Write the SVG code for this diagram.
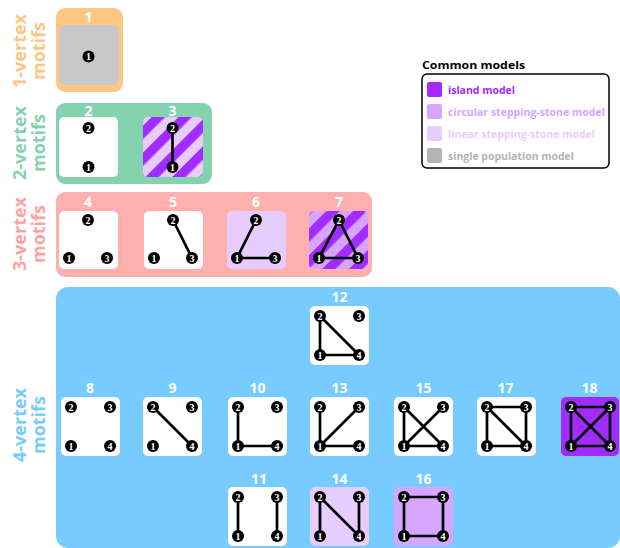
<svg xmlns="http://www.w3.org/2000/svg" width="620" height="548" viewBox="0 0 620 548">
<style>
.side{font-family:"Open Sans","Noto Sans",sans-serif;font-weight:700;font-size:18px;text-anchor:middle}
.num{font-family:"Open Sans","Noto Sans",sans-serif;font-weight:700;font-size:14px;fill:#fff;text-anchor:middle}
.e{stroke:#000;stroke-width:2.7;stroke-linecap:round;stroke-linejoin:round;fill:none}
.v circle{fill:#000}
.v text{font-family:"Liberation Serif","DejaVu Serif",serif;font-weight:700;font-size:10px;fill:#fff;text-anchor:middle}
.lg{font-family:"Open Sans","Noto Sans",sans-serif;font-weight:700;font-size:11px}
.w{fill:#fff}
</style>
<defs>
<pattern id="stripeL" patternUnits="userSpaceOnUse" width="19" height="19" patternTransform="rotate(45)">
<rect width="19" height="19" fill="#E6CCFF"/><rect width="9.5" height="19" fill="#A22BFF"/>
</pattern>
<pattern id="stripeC" patternUnits="userSpaceOnUse" width="19" height="19" patternTransform="rotate(45)">
<rect width="19" height="19" fill="#D5A5FF"/><rect width="9.5" height="19" fill="#A22BFF"/>
</pattern>
</defs>

<!-- group backgrounds -->
<g id="g1">
<rect x="56" y="8" width="67" height="84" rx="9" fill="#FFC583"/>
<text class="side" fill="#FFC583" transform="translate(26,51) rotate(-90)"><tspan x="0" y="0">1-vertex</tspan><tspan x="0" y="19">motifs</tspan></text>
</g>
<g id="g2">
<rect x="56" y="103" width="156" height="81" rx="9" fill="#85D2AF"/>
<text class="side" fill="#85D2AF" transform="translate(26,143) rotate(-90)"><tspan x="0" y="0">2-vertex</tspan><tspan x="0" y="19">motifs</tspan></text>
</g>
<g id="g3">
<rect x="56" y="192" width="316" height="85" rx="9" fill="#FFB0AE"/>
<text class="side" fill="#FFA3A1" transform="translate(26,234) rotate(-90)"><tspan x="0" y="0">3-vertex</tspan><tspan x="0" y="19">motifs</tspan></text>
</g>
<g id="g4">
<rect x="56" y="287" width="564" height="261" rx="12" fill="#78CBFF"/>
<text class="side" fill="#78CBFF" transform="translate(26,425) rotate(-90)"><tspan x="0" y="0">4-vertex</tspan><tspan x="0" y="19">motifs</tspan></text>
</g>

<!-- motifs -->
<g id="m1"><text class="num" x="88.5" y="21.5">1</text><rect x="59" y="25" width="60" height="60" rx="6" fill="#C8C8C8"/></g>
<g id="m2"><text class="num" x="88.5" y="115.5">2</text><rect x="59" y="117" width="59" height="60" rx="5" class="w"/></g>
<g id="m3"><text class="num" x="172.5" y="115.5">3</text><rect x="143" y="117" width="60" height="60" rx="5" fill="url(#stripeL)"/></g>
<g id="m4"><text class="num" x="88" y="206.5">4</text><rect x="59" y="211" width="59" height="58" rx="5" class="w"/></g>
<g id="m5"><text class="num" x="173" y="206.5">5</text><rect x="144" y="211" width="59" height="58" rx="5" class="w"/></g>
<g id="m6"><text class="num" x="256" y="206.5">6</text><rect x="227" y="211" width="59" height="58" rx="5" fill="#E6CCFF"/></g>
<g id="m7"><text class="num" x="339" y="206.5">7</text><rect x="309" y="211" width="59" height="58" rx="5" fill="url(#stripeC)"/></g>
<g id="m8"><text class="num" x="90" y="392.5">8</text><rect x="61" y="397" width="59" height="59" rx="5" class="w"/></g>
<g id="m9"><text class="num" x="172.5" y="392.5">9</text><rect x="143" y="397" width="59" height="59" rx="5" class="w"/></g>
<g id="m10"><text class="num" x="257.5" y="392.5">10</text><rect x="228" y="397" width="59" height="59" rx="5" class="w"/></g>
<g id="m11"><text class="num" x="259" y="484">11</text><rect x="228" y="487" width="59" height="59" rx="5" class="w"/></g>
<g id="m12"><text class="num" x="339.5" y="301.5">12</text><rect x="310" y="306" width="59" height="59" rx="5" class="w"/></g>
<g id="m13"><text class="num" x="339.5" y="392.5">13</text><rect x="310" y="397" width="59" height="59" rx="5" class="w"/></g>
<g id="m14"><text class="num" x="339.5" y="484">14</text><rect x="310" y="487" width="59" height="59" rx="5" fill="#E6CCFF"/></g>
<g id="m15"><text class="num" x="423.5" y="392.5">15</text><rect x="394" y="397" width="59" height="59" rx="5" class="w"/></g>
<g id="m16"><text class="num" x="423.5" y="484">16</text><rect x="394" y="487" width="59" height="59" rx="5" fill="#D5A5FF"/></g>
<g id="m17"><text class="num" x="505.5" y="392.5">17</text><rect x="477" y="397" width="59" height="59" rx="5" class="w"/></g>
<g id="m18"><text class="num" x="589.5" y="392.5">18</text><rect x="561" y="397" width="58" height="59" rx="5" fill="#A22BFF"/></g>

<!-- connectors -->
<g id="edges" class="e">
<path d="M172.5 128V167"/>
<path d="M173 220L192 258"/>
<path d="M256 220L237 258H275"/>
<path d="M339 220L319 258H358Z"/>
<path d="M153 407L192 446"/>
<path d="M238 407V446H277"/>
<path d="M238 497V536M277 497V536"/>
<path d="M320 316V355H359ZM320 316L359 355"/>
<path d="M320 407V446H359M320 446L359 407"/>
<path d="M320 536V497L359 536V497"/>
<path d="M404 407V446H443ZM404 407L443 446M404 446L443 407"/>
<path d="M404 497H443V536H404Z"/>
<path d="M487 407H526V446H487ZM487 407L526 446"/>
<path d="M571 407H610V446H571ZM571 407L610 446M571 446L610 407"/>
</g>

<!-- vertices -->
<g id="vertices">
<g class="v"><circle cx="88.5" cy="56.5" r="6"/><text x="88.5" y="60">1</text></g>
<g class="v"><circle cx="88.5" cy="128" r="6"/><text x="88.5" y="131.5">2</text></g>
<g class="v"><circle cx="88.5" cy="167" r="6"/><text x="88.5" y="170.5">1</text></g>
<g class="v"><circle cx="172.5" cy="128" r="6"/><text x="172.5" y="131.5">2</text></g>
<g class="v"><circle cx="172.5" cy="167" r="6"/><text x="172.5" y="170.5">1</text></g>

<g class="v"><circle cx="69" cy="258" r="6"/><text x="69" y="261.5">1</text></g>
<g class="v"><circle cx="88" cy="220" r="6"/><text x="88" y="223.5">2</text></g>
<g class="v"><circle cx="107" cy="258" r="6"/><text x="107" y="261.5">3</text></g>
<g class="v"><circle cx="154" cy="258" r="6"/><text x="154" y="261.5">1</text></g>
<g class="v"><circle cx="173" cy="220" r="6"/><text x="173" y="223.5">2</text></g>
<g class="v"><circle cx="192" cy="258" r="6"/><text x="192" y="261.5">3</text></g>
<g class="v"><circle cx="237" cy="258" r="6"/><text x="237" y="261.5">1</text></g>
<g class="v"><circle cx="256" cy="220" r="6"/><text x="256" y="223.5">2</text></g>
<g class="v"><circle cx="275" cy="258" r="6"/><text x="275" y="261.5">3</text></g>
<g class="v"><circle cx="319" cy="258" r="6"/><text x="319" y="261.5">1</text></g>
<g class="v"><circle cx="339" cy="220" r="6"/><text x="339" y="223.5">2</text></g>
<g class="v"><circle cx="358" cy="258" r="6"/><text x="358" y="261.5">3</text></g>

<g class="v"><circle cx="71" cy="446" r="6"/><text x="71" y="449.5">1</text></g>
<g class="v"><circle cx="71" cy="407" r="6"/><text x="71" y="410.5">2</text></g>
<g class="v"><circle cx="110" cy="407" r="6"/><text x="110" y="410.5">3</text></g>
<g class="v"><circle cx="110" cy="446" r="6"/><text x="110" y="449.5">4</text></g>

<g class="v"><circle cx="153" cy="446" r="6"/><text x="153" y="449.5">1</text></g>
<g class="v"><circle cx="153" cy="407" r="6"/><text x="153" y="410.5">2</text></g>
<g class="v"><circle cx="192" cy="407" r="6"/><text x="192" y="410.5">3</text></g>
<g class="v"><circle cx="192" cy="446" r="6"/><text x="192" y="449.5">4</text></g>

<g class="v"><circle cx="238" cy="446" r="6"/><text x="238" y="449.5">1</text></g>
<g class="v"><circle cx="238" cy="407" r="6"/><text x="238" y="410.5">2</text></g>
<g class="v"><circle cx="277" cy="407" r="6"/><text x="277" y="410.5">3</text></g>
<g class="v"><circle cx="277" cy="446" r="6"/><text x="277" y="449.5">4</text></g>

<g class="v"><circle cx="238" cy="536" r="6"/><text x="238" y="539.5">1</text></g>
<g class="v"><circle cx="238" cy="497" r="6"/><text x="238" y="500.5">2</text></g>
<g class="v"><circle cx="277" cy="497" r="6"/><text x="277" y="500.5">3</text></g>
<g class="v"><circle cx="277" cy="536" r="6"/><text x="277" y="539.5">4</text></g>

<g class="v"><circle cx="320" cy="355" r="6"/><text x="320" y="358.5">1</text></g>
<g class="v"><circle cx="320" cy="316" r="6"/><text x="320" y="319.5">2</text></g>
<g class="v"><circle cx="359" cy="316" r="6"/><text x="359" y="319.5">3</text></g>
<g class="v"><circle cx="359" cy="355" r="6"/><text x="359" y="358.5">4</text></g>

<g class="v"><circle cx="320" cy="446" r="6"/><text x="320" y="449.5">1</text></g>
<g class="v"><circle cx="320" cy="407" r="6"/><text x="320" y="410.5">2</text></g>
<g class="v"><circle cx="359" cy="407" r="6"/><text x="359" y="410.5">3</text></g>
<g class="v"><circle cx="359" cy="446" r="6"/><text x="359" y="449.5">4</text></g>

<g class="v"><circle cx="320" cy="536" r="6"/><text x="320" y="539.5">1</text></g>
<g class="v"><circle cx="320" cy="497" r="6"/><text x="320" y="500.5">2</text></g>
<g class="v"><circle cx="359" cy="497" r="6"/><text x="359" y="500.5">3</text></g>
<g class="v"><circle cx="359" cy="536" r="6"/><text x="359" y="539.5">4</text></g>

<g class="v"><circle cx="404" cy="446" r="6"/><text x="404" y="449.5">1</text></g>
<g class="v"><circle cx="404" cy="407" r="6"/><text x="404" y="410.5">2</text></g>
<g class="v"><circle cx="443" cy="407" r="6"/><text x="443" y="410.5">3</text></g>
<g class="v"><circle cx="443" cy="446" r="6"/><text x="443" y="449.5">4</text></g>

<g class="v"><circle cx="404" cy="536" r="6"/><text x="404" y="539.5">1</text></g>
<g class="v"><circle cx="404" cy="497" r="6"/><text x="404" y="500.5">2</text></g>
<g class="v"><circle cx="443" cy="497" r="6"/><text x="443" y="500.5">3</text></g>
<g class="v"><circle cx="443" cy="536" r="6"/><text x="443" y="539.5">4</text></g>

<g class="v"><circle cx="487" cy="446" r="6"/><text x="487" y="449.5">1</text></g>
<g class="v"><circle cx="487" cy="407" r="6"/><text x="487" y="410.5">2</text></g>
<g class="v"><circle cx="526" cy="407" r="6"/><text x="526" y="410.5">3</text></g>
<g class="v"><circle cx="526" cy="446" r="6"/><text x="526" y="449.5">4</text></g>

<g class="v"><circle cx="571" cy="446" r="6"/><text x="571" y="449.5">1</text></g>
<g class="v"><circle cx="571" cy="407" r="6"/><text x="571" y="410.5">2</text></g>
<g class="v"><circle cx="610" cy="407" r="6"/><text x="610" y="410.5">3</text></g>
<g class="v"><circle cx="610" cy="446" r="6"/><text x="610" y="449.5">4</text></g>
</g>

<!-- legend -->
<g id="legend">
<text class="lg" x="422" y="69" font-size="12.5" fill="#000" textLength="103" lengthAdjust="spacingAndGlyphs">Common models</text>
<rect x="422" y="74" width="187" height="94" rx="5" fill="#fff" stroke="#000" stroke-width="1.5"/>
<rect x="427" y="82" width="15" height="15" rx="2" fill="#A22BFF"/>
<text class="lg" x="448" y="93.5" fill="#A22BFF" textLength="67" lengthAdjust="spacingAndGlyphs">island model</text>
<rect x="427" y="104" width="15" height="15" rx="2" fill="#D5A5FF"/>
<text class="lg" x="448" y="115.5" fill="#D5A5FF" textLength="157" lengthAdjust="spacingAndGlyphs">circular stepping-stone model</text>
<rect x="427" y="126" width="15" height="15" rx="2" fill="#E8CDFF"/>
<text class="lg" x="448" y="137.5" fill="#E8CDFF" textLength="147" lengthAdjust="spacingAndGlyphs">linear stepping-stone model</text>
<rect x="427" y="148" width="15" height="15" rx="2" fill="#B4B4B4"/>
<text class="lg" x="448" y="159.5" fill="#B4B4B4" textLength="126" lengthAdjust="spacingAndGlyphs">single population model</text>
</g>
</svg>
